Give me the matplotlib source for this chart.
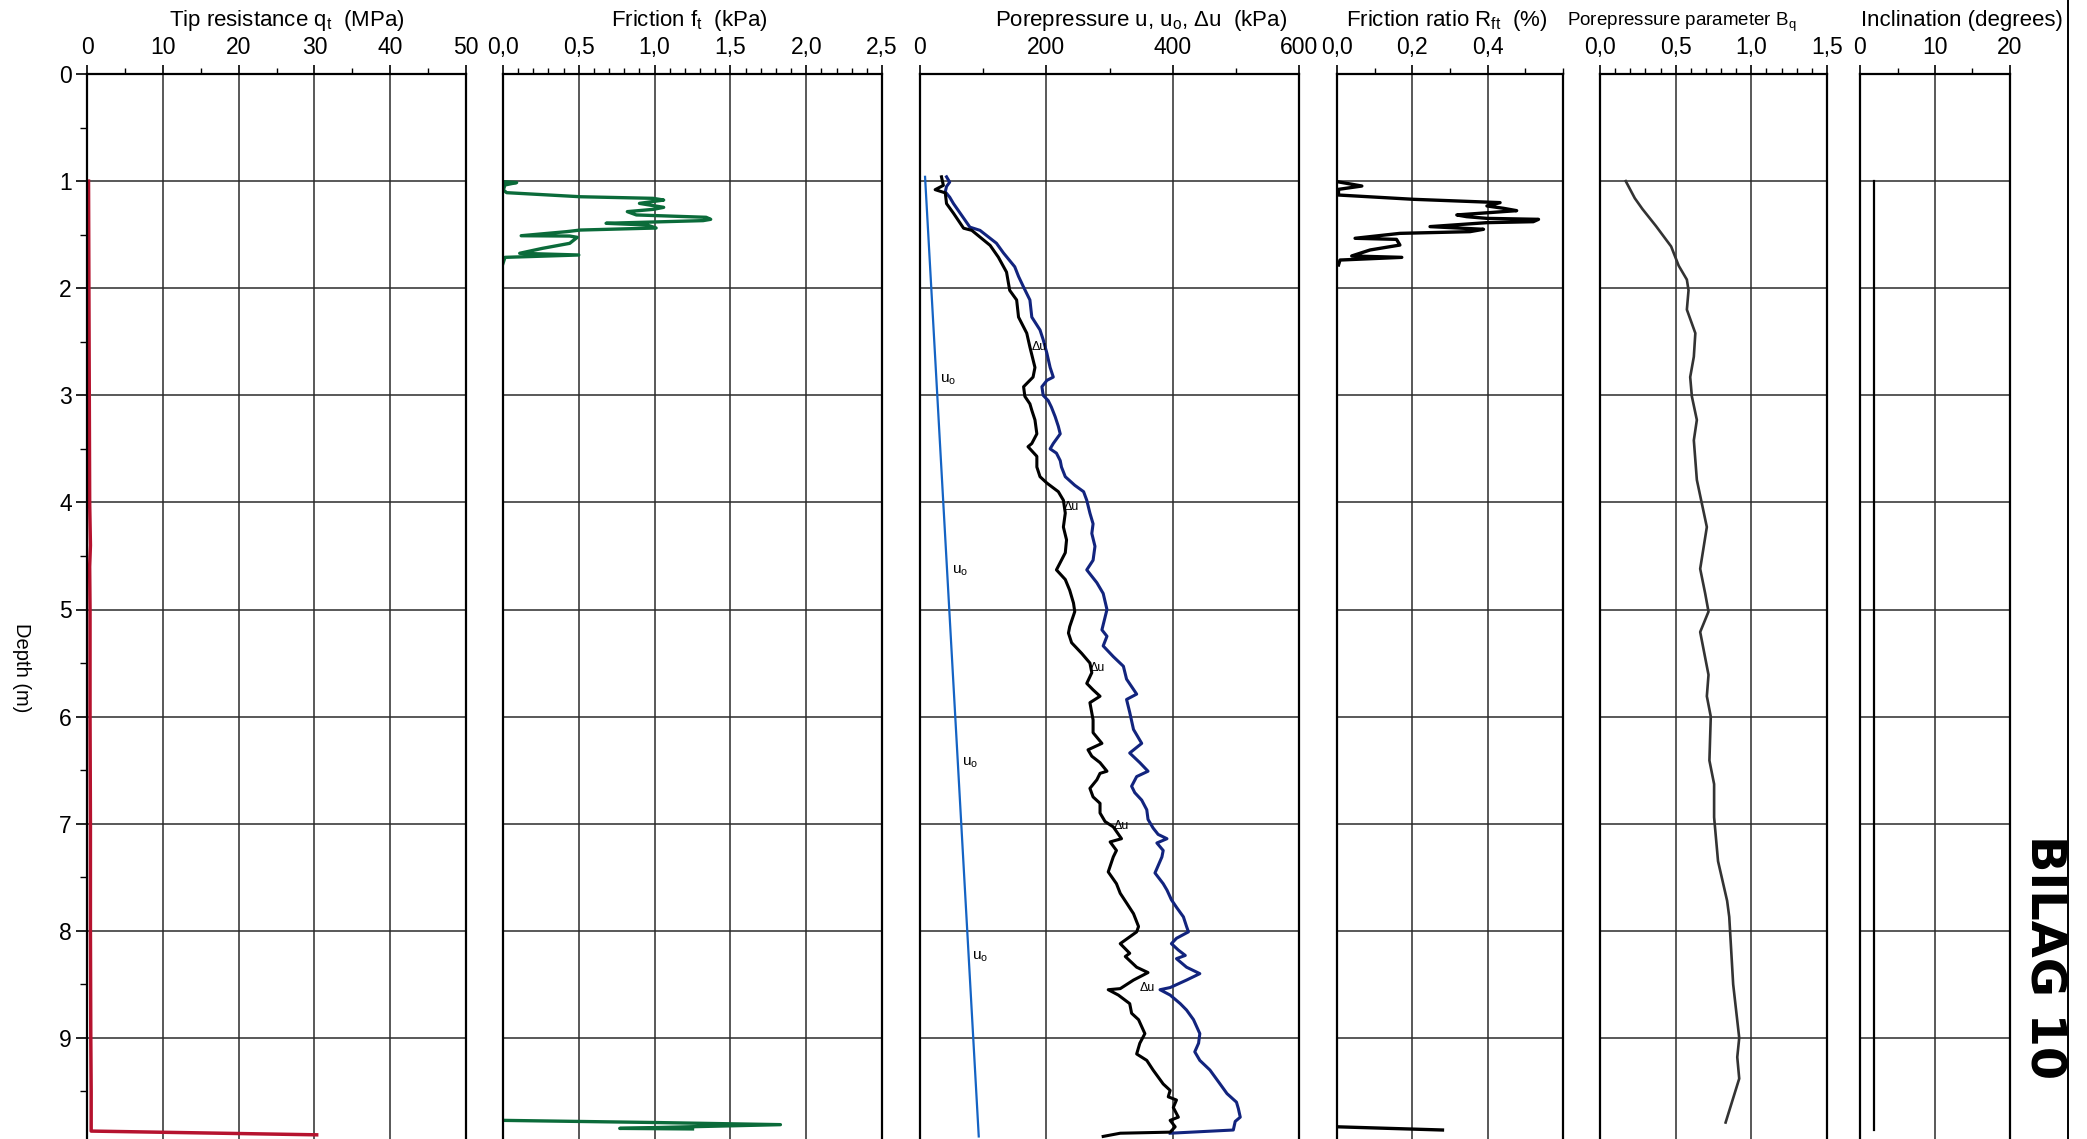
import numpy as np
import matplotlib.pyplot as plt
from matplotlib.lines import Line2D

plt.rcParams['font.family'] = ['Liberation Sans', 'DejaVu Sans']

nan = np.nan

# --- tip resistance qt (MPa) ---
qt_depth = [1.0, 2.0, 3.0, 4.0, 4.4, 4.6, 5.0, 6.0, 7.0, 8.0, 9.0, 9.5, 9.87, 9.905]
qt_val = [0.2, 0.25, 0.3, 0.35, 0.45, 0.35, 0.4, 0.4, 0.45, 0.45, 0.5, 0.55, 0.55, 30.3]

# --- sleeve friction ft (kPa) ---
f_depth = [1.005, 1.014, 1.036, 1.083, 1.108, 1.146, 1.161, 1.177, 1.208, 1.245,
           1.264, 1.285, 1.316, 1.338, 1.357, 1.369, 1.394, 1.410, 1.438, 1.457,
           1.472, 1.510, 1.513, 1.525, 1.581, 1.628, 1.674, 1.690, 1.712, 1.768,
           5.0, 9.77, 9.79, 9.81, 9.845, 9.85]
f_val = [0.0, 0.09, 0.013, 0.002, 0.024, 0.51, 0.99, 1.06, 0.90, 1.06,
         0.99, 0.82, 0.88, 1.34, 1.37, 1.32, 0.68, 0.95, 1.01, 0.51,
         0.42, 0.12, 0.44, 0.49, 0.44, 0.26, 0.11, 0.50, 0.013, 0.0,
         nan, 0.0, 1.0, 1.83, 0.77, 1.25]

# --- pore pressure u (kPa) ---
u_depth = [0.96, 1.01, 1.05, 1.10, 1.15, 1.21, 1.43, 1.46, 1.58, 1.67, 1.80, 1.89, 1.99, 2.05,
           2.11, 2.27, 2.39, 2.48, 2.61, 2.74, 2.83, 2.86, 2.92, 3.00, 3.05, 3.11, 3.20, 3.29,
           3.36, 3.45, 3.50, 3.54, 3.61, 3.67, 3.76, 3.84, 3.90, 3.98, 4.10, 4.20, 4.29, 4.41,
           4.54, 4.63, 4.75, 4.85, 5.00, 5.19, 5.25, 5.34, 5.44, 5.53, 5.65, 5.79, 5.84, 5.96,
           6.12, 6.25, 6.34, 6.43, 6.51, 6.56, 6.65, 6.71, 6.78, 6.87, 6.96, 7.04, 7.10, 7.14,
           7.18, 7.25, 7.31, 7.46, 7.56, 7.62, 7.71, 7.78, 7.87, 7.96, 8.01, 8.07, 8.12, 8.18,
           8.23, 8.26, 8.34, 8.40, 8.46, 8.53, 8.55, 8.60, 8.68, 8.74, 8.83, 8.96, 9.05, 9.13,
           9.21, 9.30, 9.43, 9.52, 9.60, 9.66, 9.74, 9.78, 9.86, 9.89]
u_val = [42, 47, 42, 40, 47, 53, 79, 95, 121, 132, 150, 156, 164, 169,
         174, 177, 190, 195, 201, 206, 211, 201, 193, 195, 203, 208, 214, 219,
         222, 211, 206, 216, 222, 224, 230, 245, 259, 264, 269, 274, 272, 277,
         274, 264, 280, 290, 296, 288, 296, 290, 306, 322, 327, 343, 327, 332,
         338, 351, 332, 348, 361, 343, 335, 340, 351, 359, 361, 369, 377, 391,
         375, 385, 383, 372, 385, 391, 398, 406, 417, 422, 425, 406, 398, 409,
         420, 406, 422, 443, 422, 396, 380, 396, 412, 422, 433, 443, 441, 435,
         443, 459, 475, 486, 501, 504, 507, 499, 496, 396]

# --- excess pore pressure du (kPa) ---
du_depth = [0.96, 1.04, 1.08, 1.11, 1.21, 1.30, 1.44, 1.46, 1.60, 1.71, 1.85, 2.02,
            2.11, 2.27, 2.42, 2.55, 2.74, 2.83, 2.92, 3.01, 3.08, 3.14, 3.23, 3.36,
            3.45, 3.48, 3.57, 3.67, 3.76, 3.82, 3.90, 3.98, 4.10, 4.23, 4.35, 4.47,
            4.63, 4.72, 4.82, 4.94, 5.02, 5.16, 5.22, 5.31, 5.41, 5.50, 5.59, 5.69,
            5.75, 5.81, 5.87, 6.03, 6.15, 6.25, 6.31, 6.37, 6.43, 6.51, 6.53, 6.59,
            6.67, 6.75, 6.81, 6.90, 6.98, 7.03, 7.14, 7.17, 7.25, 7.31, 7.45, 7.56,
            7.65, 7.74, 7.84, 7.96, 8.01, 8.12, 8.21, 8.24, 8.34, 8.39, 8.46, 8.54,
            8.55, 8.60, 8.68, 8.77, 8.83, 8.96, 9.05, 9.15, 9.21, 9.30, 9.43, 9.49,
            9.55, 9.58, 9.65, 9.74, 9.77, 9.83, 9.88, 9.89, 9.92]
du_val = [34, 37, 24, 40, 42, 53, 69, 82, 111, 124, 137, 142,
          153, 156, 169, 174, 182, 179, 164, 166, 174, 177, 182, 185,
          177, 171, 185, 185, 190, 201, 219, 227, 230, 227, 232, 230,
          216, 230, 237, 243, 245, 237, 235, 240, 256, 269, 272, 264,
          274, 285, 269, 274, 274, 288, 266, 272, 285, 296, 285, 280,
          269, 274, 285, 285, 293, 306, 319, 301, 311, 306, 298, 311,
          317, 327, 338, 346, 343, 317, 332, 325, 343, 361, 338, 317,
          298, 314, 332, 335, 346, 356, 348, 343, 359, 369, 385, 396,
          393, 406, 401, 409, 396, 404, 396, 317, 290]

# --- hydrostatic u0 (kPa) ---
u0_depth = [0.96, 9.92]
u0_val = [8, 93]

# --- friction ratio Rft (%) ---
rf_depth = [1.005, 1.046, 1.077, 1.130, 1.170, 1.201, 1.232, 1.254, 1.276, 1.316,
            1.332, 1.348, 1.357, 1.379, 1.388, 1.425, 1.450, 1.472, 1.488, 1.534,
            1.544, 1.597, 1.643, 1.699, 1.712, 1.737, 1.783, 5.0, 9.83, 9.86]
rf_val = [0.0, 0.066, 0.004, 0.004, 0.203, 0.433, 0.398, 0.442, 0.477, 0.318,
          0.344, 0.398, 0.535, 0.521, 0.398, 0.247, 0.389, 0.353, 0.167, 0.048,
          0.158, 0.167, 0.088, 0.039, 0.172, 0.008, 0.004, nan, 0.0, 0.28]

# --- pore pressure parameter Bq ---
bq_depth = [1.0, 1.16, 1.26, 1.42, 1.61, 1.79, 1.92, 2.02, 2.20, 2.42, 2.64, 2.83,
            3.01, 3.23, 3.42, 3.79, 4.01, 4.23, 4.62, 4.85, 5.02, 5.21, 5.61, 5.81,
            6.0, 6.41, 6.63, 6.94, 7.35, 7.72, 7.87, 8.5, 9.0, 9.18, 9.38, 9.79]
bq_val = [0.17, 0.23, 0.28, 0.37, 0.47, 0.52, 0.574, 0.585, 0.574, 0.63, 0.62, 0.596,
          0.607, 0.64, 0.62, 0.64, 0.673, 0.706, 0.662, 0.695, 0.717, 0.662, 0.717, 0.706,
          0.732, 0.723, 0.754, 0.754, 0.78, 0.84, 0.854, 0.88, 0.92, 0.907, 0.92, 0.83]

# --- inclination (degrees) ---
inc_depth = [1.0, 9.86]
inc_val = [1.8, 1.8]

# label positions along the pore pressure lines: (kPa, depth)
u0_label_pos = [(32, 2.85), (50, 4.64), (66, 6.43), (82, 8.24)]
du_label_pos = [(176, 2.55), (227, 4.04), (268, 5.55), (306, 7.02), (347, 8.53)]

W, H = 2087, 1139
fig = plt.figure(figsize=(W / 100, H / 100), dpi=100)

# panel left/right edges in pixels
edges = [(87, 466), (503, 882), (920, 1299), (1337, 1563), (1600, 1827), (1860, 2010)]
top_px = 74
depth_max = 10.0
px_per_m = 107.1
bottom_px = top_px + depth_max * px_per_m

panels = [
    dict(xlim=(0, 50), major=[0, 10, 20, 30, 40, 50],
         labels=['0', '10', '20', '30', '40', '50'], minor=[5, 15, 25, 35, 45],
         title='Tip resistance q$_\\mathregular{t}$  (MPa)', tx=287, ts=16),
    dict(xlim=(0, 2.5), major=[0, 0.5, 1.0, 1.5, 2.0, 2.5],
         labels=['0,0', '0,5', '1,0', '1,5', '2,0', '2,5'],
         minor=np.arange(0.1, 2.5, 0.1),
         title='Friction f$_\\mathregular{t}$  (kPa)', tx=689, ts=16),
    dict(xlim=(0, 600), major=[0, 200, 400, 600],
         labels=['0', '200', '400', '600'], minor=[100, 300, 500],
         title='Porepressure u, u$_\\mathregular{o}$, Δu  (kPa)', tx=1141, ts=16),
    dict(xlim=(0, 0.6), major=[0, 0.2, 0.4],
         labels=['0,0', '0,2', '0,4'], minor=[0.1, 0.3, 0.5, 0.6],
         title='Friction ratio R$_\\mathregular{ft}$  (%)', tx=1447, ts=16),
    dict(xlim=(0, 1.5), major=[0, 0.5, 1.0, 1.5],
         labels=['0,0', '0,5', '1,0', '1,5'], minor=np.arange(0.1, 1.5, 0.1),
         title='Porepressure parameter B$_\\mathregular{q}$', tx=1682, ts=13.5),
    dict(xlim=(0, 20), major=[0, 10, 20], labels=['0', '10', '20'], minor=[5, 15],
         title='Inclination (degrees)', tx=1962, ts=16),
]

axes = []
for i, ((x0, x1), p) in enumerate(zip(edges, panels)):
    ax = fig.add_axes([x0 / W, 1 - bottom_px / H, (x1 - x0) / W, (bottom_px - top_px) / H])
    ax.set_xlim(*p['xlim'])
    ax.set_ylim(depth_max, 0)
    ax.xaxis.tick_top()
    ax.set_xticks(p['major'])
    ax.set_xticklabels(p['labels'])
    ax.set_xticks(p['minor'], minor=True)
    ax.tick_params(axis='x', which='major', direction='out', length=6.5, width=1.2,
                   pad=4.5, labelsize=16.5, top=True, bottom=False)
    ax.tick_params(axis='x', which='minor', direction='out', length=4, width=1,
                   top=True, bottom=False)
    ax.set_yticks(range(0, 10))
    ax.set_yticks(np.arange(0.5, 10, 1.0), minor=True)
    if i == 0:
        ax.tick_params(axis='y', which='major', direction='out', length=8, width=1.2,
                       pad=3, labelsize=16.5)
        ax.tick_params(axis='y', which='minor', direction='out', length=5, width=1)
    else:
        ax.tick_params(axis='y', which='both', left=False, labelleft=False)
    ax.grid(True, which='major', color='#2b2b2b', lw=1.1)
    for side in ('top', 'left', 'right'):
        ax.spines[side].set_linewidth(1.6)
    ax.spines['bottom'].set_visible(False)
    fig.text(p['tx'] / W, 1 - 26 / H, p['title'], ha='center', va='baseline',
             fontsize=p['ts'])
    axes.append(ax)

ax_qt, ax_f, ax_u, ax_rf, ax_bq, ax_inc = axes

ax_qt.plot(qt_val, qt_depth, color='#b5122e', lw=2.5, clip_on=False)
ax_f.plot(f_val, f_depth, color='#0b6b3a', lw=2.4)
ax_u.plot(u0_val, u0_depth, color='#1463c4', lw=1.6)
ax_u.plot(u_val, u_depth, color='#12247e', lw=2.2)
ax_u.plot(du_val, du_depth, color='black', lw=2.2)
for x, d in u0_label_pos:
    ax_u.text(x, d, 'u$_\\mathregular{o}$', fontsize=11, ha='left', va='center')
for x, d in du_label_pos:
    ax_u.text(x, d, 'Δu', fontsize=9, ha='left', va='center')
ax_rf.plot(rf_val, rf_depth, color='black', lw=2.4)
ax_bq.plot(bq_val, bq_depth, color='#333333', lw=1.9)
ax_inc.plot(inc_val, inc_depth, color='black', lw=1.6)

fig.text(21 / W, 1 - 668 / H, 'Depth (m)', rotation=-90, ha='center', va='center',
         fontsize=14.5)
fig.text(2044 / W, 1 - 957 / H, 'BILAG 10', rotation=-90, ha='center', va='center',
         fontsize=34.5, fontweight='bold', family='DejaVu Sans')
fig.add_artist(Line2D([2068 / W, 2068 / W], [0, 1], transform=fig.transFigure,
                      color='black', lw=1.4))

fig.savefig('out.png', dpi=100)
